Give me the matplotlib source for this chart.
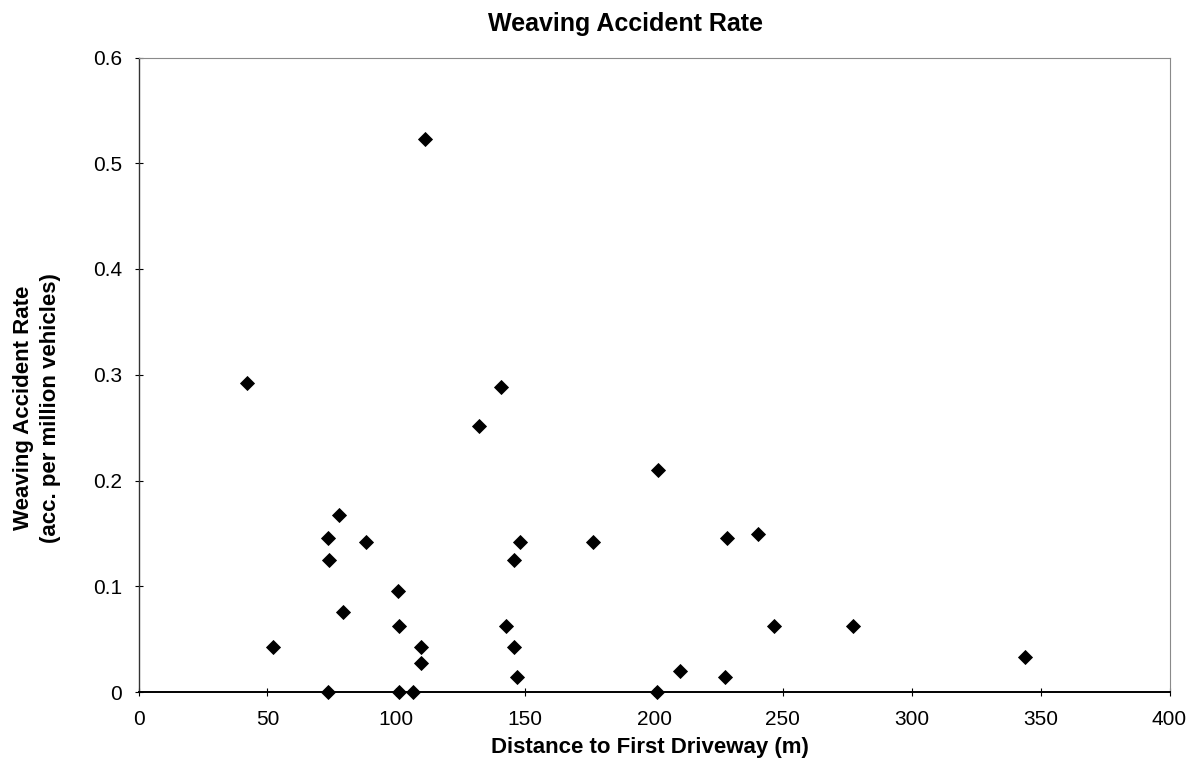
import matplotlib
matplotlib.use("Agg")
import matplotlib.pyplot as plt

distance_m = [42.2, 140.7, 132.1, 77.9, 73.4, 88.3, 73.9, 100.6, 79.5, 101.1,
              52.2, 109.5, 109.5, 73.4, 101.1, 106.4, 147.9, 145.8, 142.5, 145.8,
              146.9, 201.7, 176.4, 228.4, 240.5, 246.5, 277.1, 210.1, 227.6, 201.2,
              111.2, 344.0]
accident_rate = [0.292, 0.288, 0.2515, 0.1677, 0.1459, 0.1418, 0.1248, 0.0958, 0.0757, 0.0627,
                 0.0426, 0.0426, 0.0271, 0.0, 0.0, 0.0, 0.1418, 0.1248, 0.0627, 0.0426,
                 0.0139, 0.2096, 0.1418, 0.1453, 0.1491, 0.0624, 0.0624, 0.0199, 0.0139, 0.0,
                 0.5226, 0.0328]

x_ticks = [0, 50, 100, 150, 200, 250, 300, 350, 400]
y_ticks = [0, 0.1, 0.2, 0.3, 0.4, 0.5, 0.6]
y_tick_labels = ["0", "0.1", "0.2", "0.3", "0.4", "0.5", "0.6"]

plt.rcParams['font.family'] = ['Liberation Sans', 'DejaVu Sans']

W, H = 1198, 762
fig = plt.figure(figsize=(W / 100, H / 100), dpi=100)
ax = fig.add_axes([138.5 / W, 1 - 692 / H, (1169.5 - 138.5) / W, (692 - 57.5) / H])

ax.plot(distance_m, accident_rate, linestyle='none', marker='D', markersize=7.2,
        color='black', markeredgewidth=0.6, clip_on=False, zorder=3)

ax.set_xlim(0, 400)
ax.set_ylim(0, 0.6)
ax.set_xticks(x_ticks)
ax.set_yticks(y_ticks)
ax.set_yticklabels(y_tick_labels)
ax.tick_params(axis='both', labelsize=15, direction='inout', length=6, width=0.8, color='black')
ax.tick_params(axis='x', pad=10)
ax.tick_params(axis='y', pad=9)

for side in ['top', 'right']:
    ax.spines[side].set_color('#8a8a8a')
    ax.spines[side].set_linewidth(0.8)
ax.spines['left'].set_color('#333333')
ax.spines['left'].set_linewidth(1.0)
ax.spines['bottom'].set_color('black')
ax.spines['bottom'].set_linewidth(1.4)

fig.text(626 / W, 1 - 24 / H, "Weaving Accident Rate", ha='center', va='center',
         fontsize=18, fontweight='bold')
fig.text(650 / W, 1 - 748 / H, "Distance to First Driveway (m)", ha='center', va='center',
         fontsize=16, fontweight='bold')
fig.text(37 / W, 1 - 408 / H, "Weaving Accident Rate\n(acc. per million vehicles)",
         ha='center', va='center', rotation=90, fontsize=16, fontweight='bold',
         linespacing=1.35)

fig.savefig("out.png", dpi=100, facecolor='white')
